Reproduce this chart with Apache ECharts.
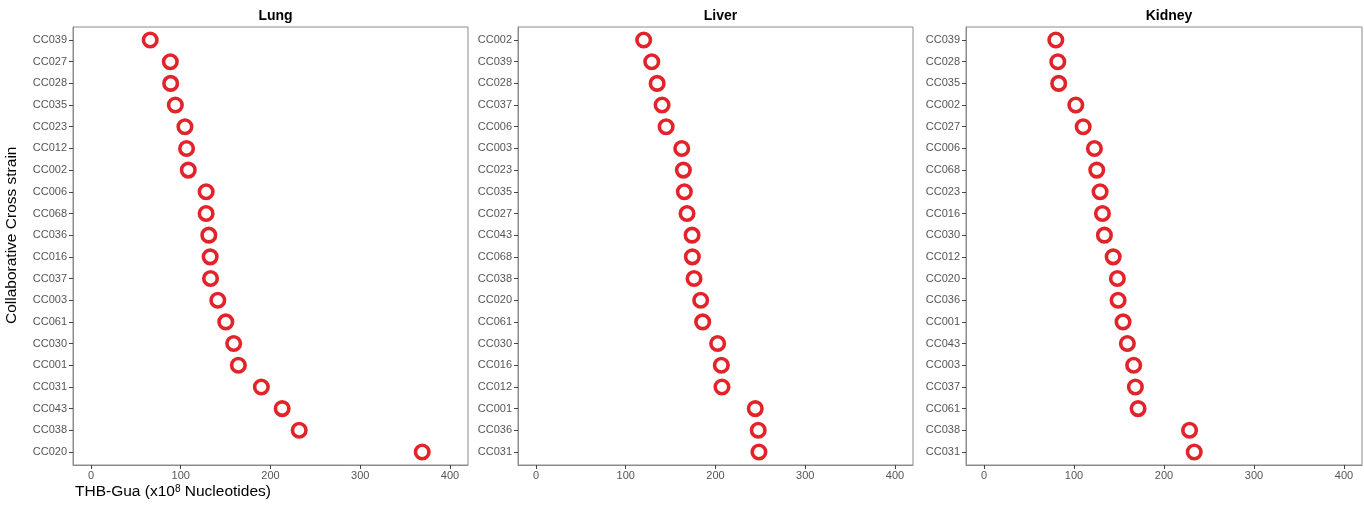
<!DOCTYPE html>
<html>
<head>
<meta charset="utf-8">
<script src="https://cdn.jsdelivr.net/npm/echarts@6/dist/echarts.min.js"></script>
<style>html,body{margin:0;padding:0;background:#fff}#c{width:1364px;height:506px}</style>
</head>
<body>
<div id="c"></div>
<script>
const panelTitles = ['Lung', 'Liver', 'Kidney'];
const xTicks = [0, 100, 200, 300, 400];

const lungStrains = ['CC039','CC027','CC028','CC035','CC023','CC012','CC002','CC006','CC068','CC036','CC016','CC037','CC003','CC061','CC030','CC001','CC031','CC043','CC038','CC020'];
const lungValues  = [66, 88.4, 88.8, 94, 104.7, 106.5, 108.4, 128.3, 128.3, 131.3, 132.8, 133.2, 141.3, 150.2, 159, 164.2, 189.8, 213, 232, 369];

const liverStrains = ['CC002','CC039','CC028','CC037','CC006','CC003','CC023','CC035','CC027','CC043','CC068','CC038','CC020','CC061','CC030','CC016','CC012','CC001','CC036','CC031'];
const liverValues  = [120, 129, 135, 140.5, 145, 162.4, 164.2, 165.3, 168.3, 173.9, 174.2, 176.1, 183.5, 185.7, 202.4, 206.5, 207.2, 244.3, 247.6, 248.4];

const kidneyStrains = ['CC039','CC028','CC035','CC002','CC027','CC006','CC068','CC023','CC016','CC030','CC012','CC020','CC036','CC001','CC043','CC003','CC037','CC061','CC038','CC031'];
const kidneyValues  = [79.8, 82, 83, 102, 110.2, 122.7, 125.3, 129, 131.6, 133.8, 143.5, 148.2, 149, 154.5, 159.3, 166.3, 168.2, 171.2, 228.4, 233.6];

const strainsList = [lungStrains, liverStrains, kidneyStrains];
const valuesList = [lungValues, liverValues, kidneyValues];

const FONT = '"Liberation Sans", Arial, sans-serif';
const grids = [
  {left: 73, right: 896, top: 27, bottom: 41},
  {left: 518, right: 451, top: 27, bottom: 41},
  {left: 966, right: 2, top: 27, bottom: 41}
];
const centers = [270.5, 715.5, 1164];
const idx = lungStrains.map((_, i) => i);

const option = {
  backgroundColor: '#fff',
  animation: false,
  title: panelTitles.map((t, i) => ({
    text: t, left: centers[i], top: 4, textAlign: 'center',
    textStyle: {fontFamily: FONT, fontSize: 14, fontWeight: 'bold', color: '#000'}
  })),
  grid: grids.map(g => Object.assign({show: true, borderColor: '#8c8c8c', borderWidth: 1, backgroundColor: '#fff'}, g)),
  xAxis: grids.map((g, i) => ({
    type: 'value', gridIndex: i, min: -20, max: 420,
    axisLine: {show: true, onZero: false, lineStyle: {color: '#8c8c8c', width: 1}},
    axisTick: {show: true, length: 4, customValues: xTicks, lineStyle: {color: '#444'}},
    axisLabel: {customValues: xTicks, fontFamily: FONT, fontSize: 11, color: '#555', margin: 5},
    splitLine: {show: false}
  })),
  yAxis: grids.map((g, i) => ({
    type: 'value', gridIndex: i, inverse: true, min: -0.6, max: 19.6,
    axisLine: {show: true, onZero: false, lineStyle: {color: '#8c8c8c', width: 1}},
    axisTick: {show: true, length: 4, customValues: idx, lineStyle: {color: '#444'}},
    axisLabel: {customValues: idx, fontFamily: FONT, fontSize: 11, color: '#555', margin: 6,
      formatter: v => strainsList[i][Math.round(v)]},
    splitLine: {show: false}
  })),
  series: valuesList.map((vals, i) => ({
    type: 'scatter', xAxisIndex: i, yAxisIndex: i,
    data: vals.map((v, j) => [v, j]),
    symbol: 'circle', symbolSize: 13.5,
    itemStyle: {color: '#ffffff', borderColor: '#e3232a', borderWidth: 3.6, opacity: 1}
  })),
  graphic: [
    {type: 'text', x: 4, y: 324, rotation: Math.PI / 2, z: 10,
      style: {text: 'Collaborative Cross strain', font: '15.5px ' + FONT, fill: '#000'}},
    {type: 'text', x: 75, y: 484, z: 10,
      style: {text: 'THB-Gua (x10{s|8} Nucleotides)', font: '15.5px ' + FONT, fill: '#000',
        rich: {s: {fontSize: 10, fontFamily: FONT, verticalAlign: 'top', fill: '#000', padding: [0, 0, 5, 0]}}}}
  ]
};
const chart = echarts.init(document.getElementById('c'), null, {renderer: 'canvas'});
chart.setOption(option);
</script>
</body>
</html>
